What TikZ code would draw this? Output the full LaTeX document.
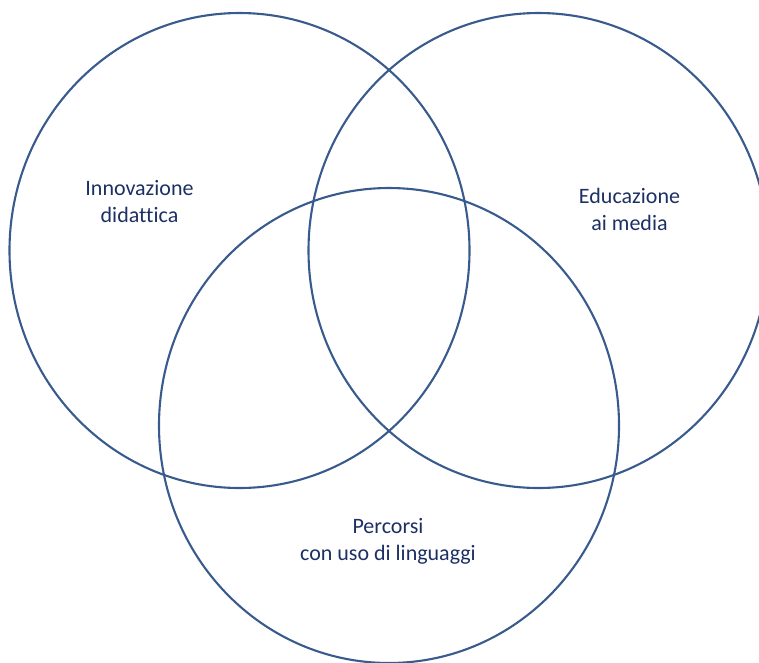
\documentclass[tikz,border=0pt]{standalone}
\usepackage{fontspec}
\setmainfont[Ligatures=NoCommon]{Carlito}
\definecolor{ringblue}{RGB}{56,90,140}
\definecolor{textnavy}{RGB}{28,48,100}
\begin{document}
\begin{tikzpicture}[x=1pt,y=-1pt,
  ring/.style={draw=ringblue,line width=2.1pt},
  label/.style={text=textnavy,align=center,font=\fontsize{22}{27}\selectfont,inner sep=0pt}]
\useasboundingbox (0,0) rectangle (759,662);
\begin{scope}
\clip (0,0) rectangle (759,662);
\draw[ring] (239.5,250.5) ellipse [x radius=230, y radius=237.5];
\draw[ring] (538.5,250.5) ellipse [x radius=230, y radius=237.5];
\draw[ring] (389,425.5) ellipse [x radius=230, y radius=237.5];
\end{scope}
\node[label] (innov) at (139.5,202) {Innovazione\\didattica};
\node[label] (edu) at (629.5,209) {Educazione\\ai media};
\node[label] (perc) at (388,541) {Percorsi\\con uso di linguaggi};
\end{tikzpicture}
\end{document}
